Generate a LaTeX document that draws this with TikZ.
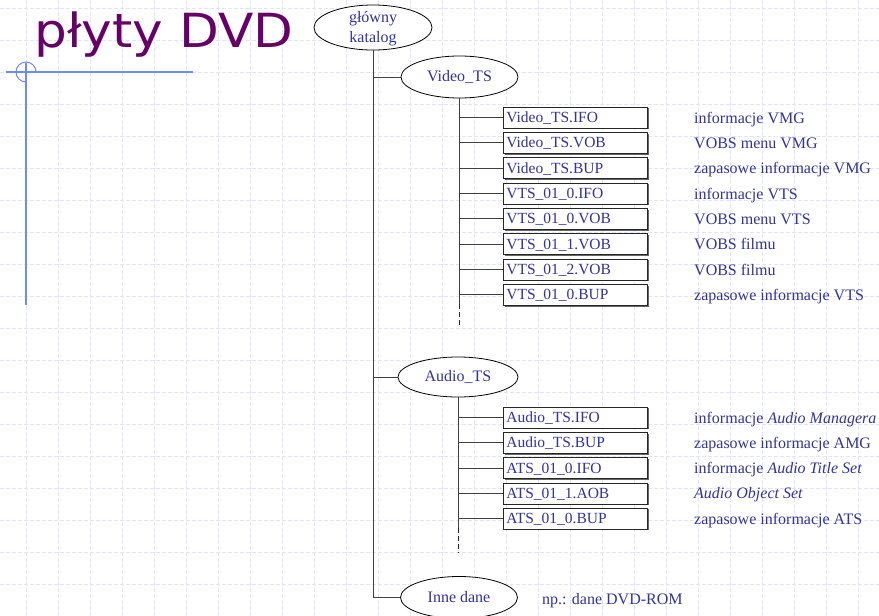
\documentclass[tikz,border=0pt]{standalone}
\usepackage{fontspec}
\setmainfont{Liberation Serif}
\newfontfamily\titlefont{DejaVu Sans}
\usetikzlibrary{shapes.geometric,shadows}
\definecolor{txtblue}{RGB}{51,51,153}
\definecolor{ttl}{RGB}{102,0,102}
\definecolor{gridc}{RGB}{224,228,252}
\definecolor{deco}{RGB}{110,140,240}
\begin{document}
\begin{tikzpicture}[x=1pt,y=-1pt,
  gridline/.style={gridc, line width=0.8pt, dash pattern=on 4pt off 2pt},
  conn/.style={black!75, line width=1pt},
  ell/.style={ellipse, draw=black, line width=0.8pt, fill=white, minimum width=117pt, minimum height=42pt, inner sep=0pt, text=txtblue, font=\fontsize{16}{20}\selectfont},
  filebox/.style={rectangle, draw=black!85, line width=0.8pt, fill=white, anchor=west, text width=138pt, inner xsep=3pt, inner ysep=0pt, minimum height=21pt, text height=12pt, text depth=2pt, align=left, text=txtblue, font=\fontsize{15.5}{18}\selectfont,
    drop shadow={shadow xshift=1.2pt, shadow yshift=-1.2pt, fill=black!60, opacity=1}},
  desc/.style={anchor=base west, inner sep=0pt, text=txtblue, font=\fontsize{16}{18}\selectfont},
  dashend/.style={black!85, line width=1pt, dash pattern=on 5pt off 3pt}
]
\useasboundingbox (0,0) rectangle (879,616);
\fill[white] (0,0) rectangle (879,616);
% background grid
\foreach \x in {26,58,...,890} \draw[gridline] (\x,0) -- (\x,616);
\foreach \y in {8,40,...,620} \draw[gridline] (0,\y) -- (879,\y);

% title and decoration
\node[anchor=base west, inner sep=0pt, text=ttl, font=\titlefont\fontsize{47}{52}\selectfont] (title) at (34,47) {\scalebox{1.1}[1]{płyty DVD}};
\draw[deco, line width=1.2pt] (6,72) -- (193,72);
\draw[deco, line width=1.6pt] (26,63) -- (26,305);
\draw[deco, line width=1pt] (36,72) arc[start angle=0, end angle=-270, radius=10];

% ellipses
\node[ell, minimum width=118pt, minimum height=45pt] (root) at (373,27.5) {};
\node[inner sep=0pt, align=center, text=txtblue, font=\fontsize{16}{20}\selectfont] (roottext) at (373,29) {główny\\katalog};
\node[ell] (video) at (459.5,77) {Video\_TS};
\node[ell, minimum width=120pt, minimum height=40pt] (audio) at (458,377) {Audio\_TS};
\node[ell] (inne) at (459,597.5) {Inne dane};
\node[desc] (innedesc) at (542,604) {np.: dane DVD-ROM};

% video files
\foreach \n/\f/\d [count=\i from 0] in {
  v1/Video\_TS.IFO/informacje VMG,
  v2/Video\_TS.VOB/VOBS menu VMG,
  v3/Video\_TS.BUP/zapasowe informacje VMG,
  v4/VTS\_01\_0.IFO/informacje VTS,
  v5/VTS\_01\_0.VOB/VOBS menu VTS,
  v6/VTS\_01\_1.VOB/VOBS filmu,
  v7/VTS\_01\_2.VOB/VOBS filmu,
  v8/VTS\_01\_0.BUP/zapasowe informacje VTS}{
  \node[filebox] (\n) at (503,117.5+25.35*\i) {\f};
  \node[desc] (\n d) at (694,123+25.35*\i) {\d};
}
% audio files
\foreach \n/\f/\d [count=\i from 0] in {
  a1/Audio\_TS.IFO/informacje \textit{Audio Managera},
  a2/Audio\_TS.BUP/zapasowe informacje AMG,
  a3/ATS\_01\_0.IFO/informacje \textit{Audio Title Set},
  a4/ATS\_01\_1.AOB/\textit{Audio Object Set},
  a5/ATS\_01\_0.BUP/zapasowe informacje ATS}{
  \node[filebox] (\n) at (503,417.5+25.3*\i) {\f};
  \node[desc] (\n d) at (694,423+25.3*\i) {\d};
}

% main trunk
\draw[conn] (root.south) -- (root.south |- inne.west) -- (inne.west);
\draw[conn] (root.south |- video.west) -- (video.west);
\draw[conn] (root.south |- audio.west) -- (audio.west);

% video sub-trunk
\coordinate (vend) at ([yshift=-9pt]video.south |- v8.west);
\coordinate (vdash) at ([yshift=-30pt]video.south |- v8.west);
\draw[conn] (video.south) -- (vend);
\draw[dashend] (vend) -- (vdash);
\foreach \n in {v1,v2,v3,v4,v5,v6,v7,v8}
  \draw[conn] (video.south |- \n.west) -- (\n.west);

% audio sub-trunk
\coordinate (aend) at ([yshift=-9pt]audio.south |- a5.west);
\coordinate (adash) at ([yshift=-34pt]audio.south |- a5.west);
\draw[conn] (audio.south) -- (aend);
\draw[dashend] (aend) -- (adash);
\foreach \n in {a1,a2,a3,a4,a5}
  \draw[conn] (audio.south |- \n.west) -- (\n.west);
\end{tikzpicture}
\end{document}
